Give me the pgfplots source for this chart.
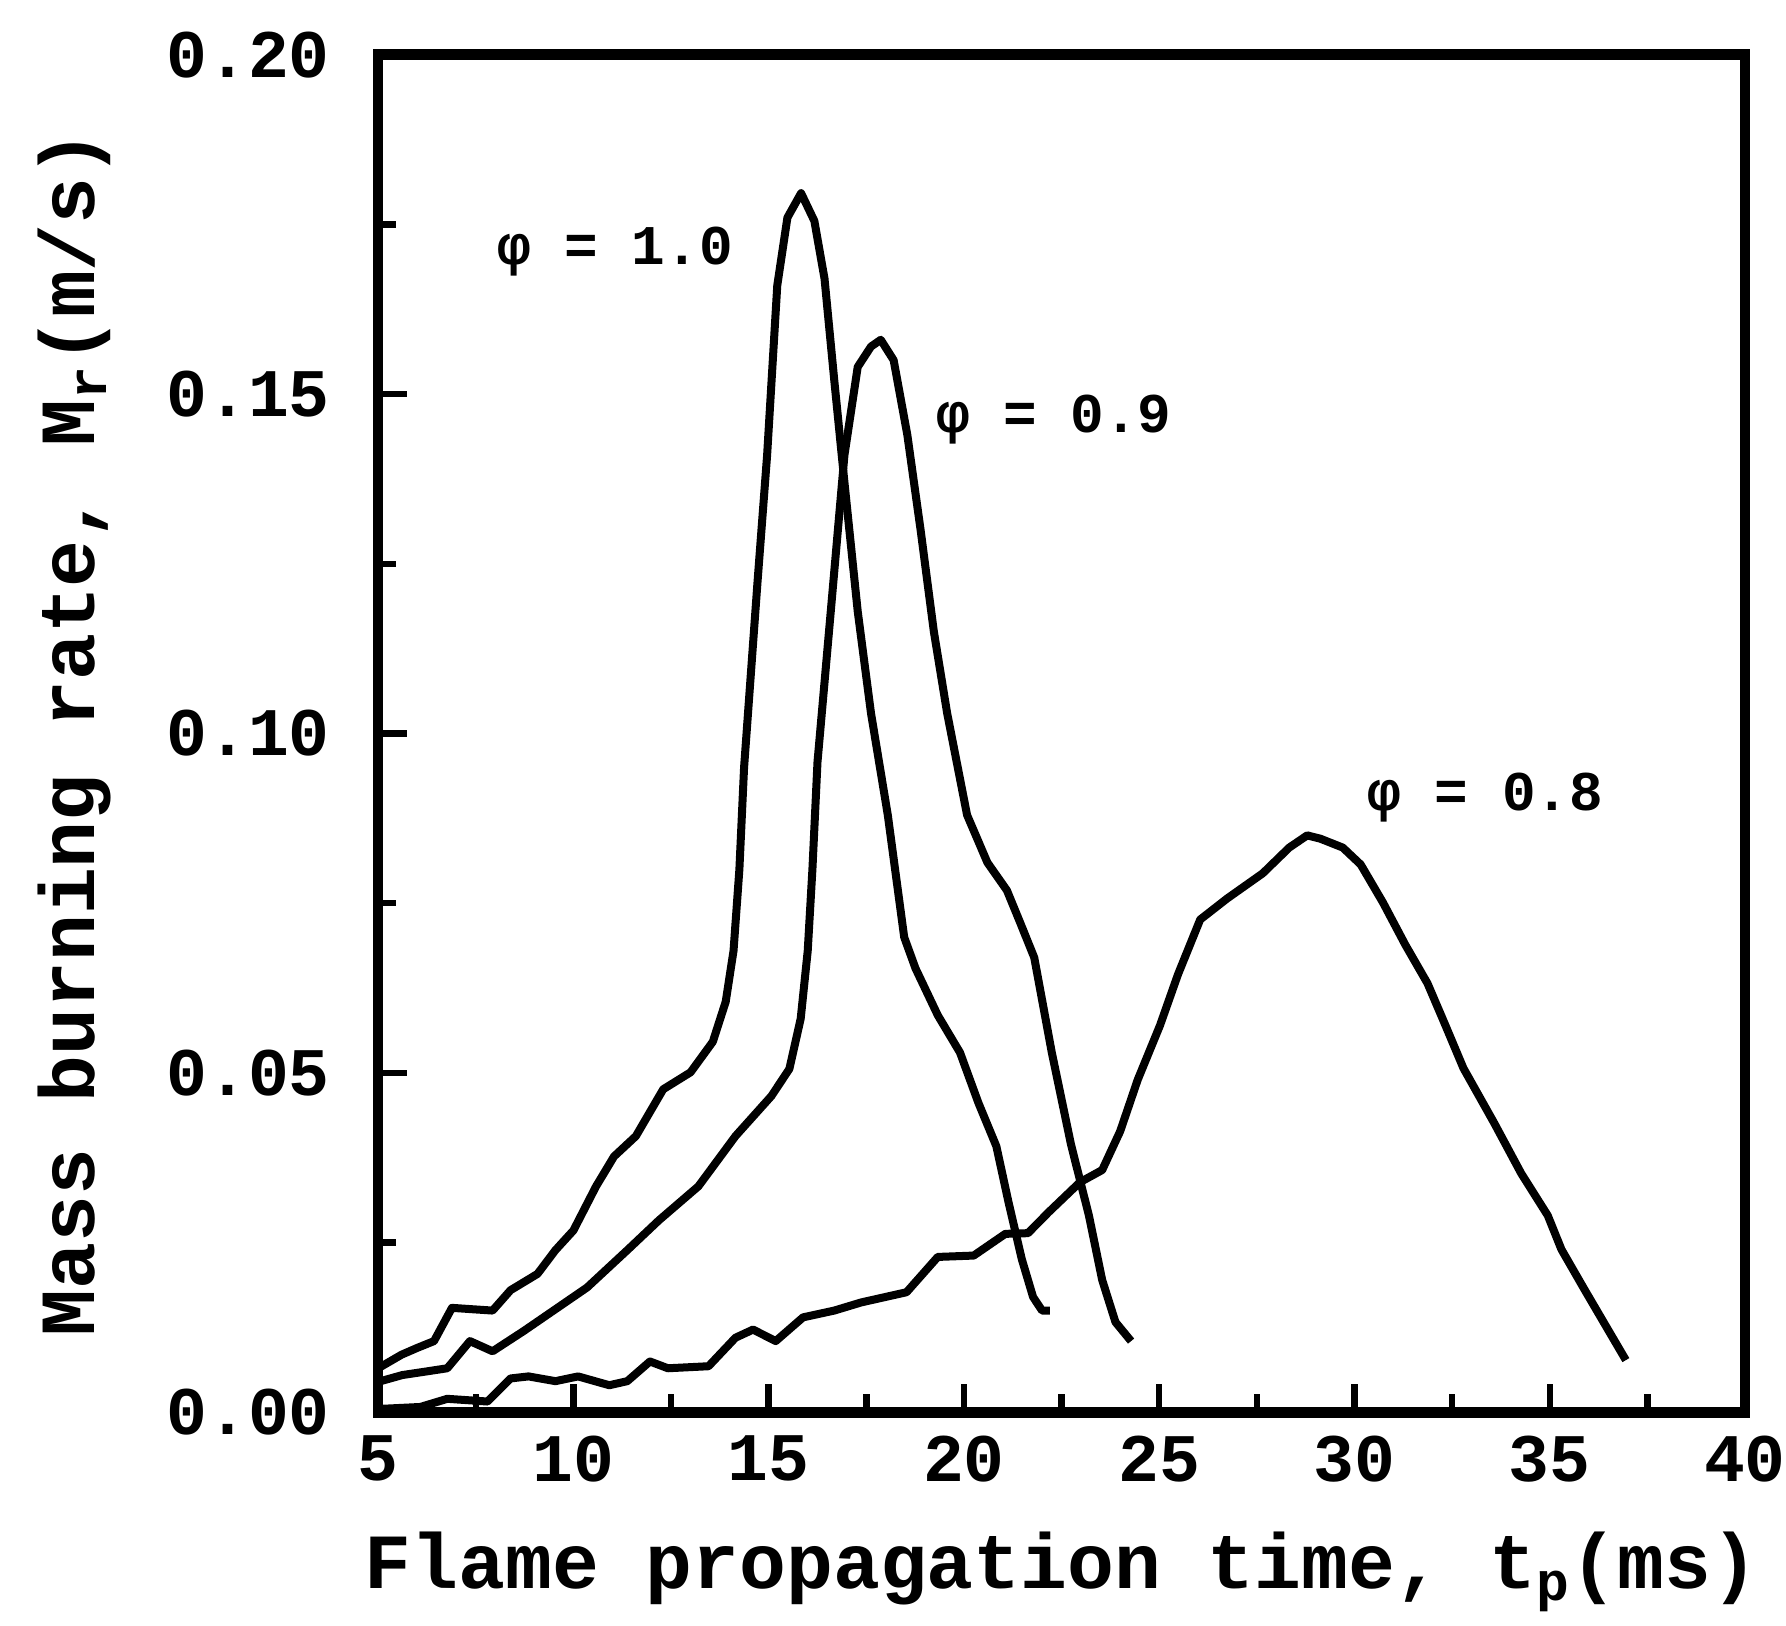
\documentclass[border=0pt]{standalone}
\usepackage{fontspec}
\setmainfont{Liberation Mono}
\usepackage{pgfplots}
\pgfplotsset{compat=1.18}

% phi = 1.0
\pgfplotstableread{
x y
5.0 0.0065
5.6 0.0085
6.0 0.0095
6.43 0.0105
6.89 0.0154
7.4 0.0152
7.93 0.015
8.39 0.018
9.08 0.0204
9.54 0.0239
10.0 0.0268
10.58 0.0333
11.04 0.0377
11.6 0.0407
12.3 0.0476
13.0 0.0501
13.57 0.0546
13.9 0.0605
14.1 0.068
14.25 0.08
14.37 0.095
14.71 0.122
14.96 0.141
15.22 0.166
15.48 0.176
15.83 0.1796
16.17 0.1755
16.43 0.167
16.68 0.152
16.94 0.137
17.28 0.118
17.62 0.103
18.05 0.088
18.47 0.070
18.76 0.0654
19.33 0.0585
19.9 0.053
20.37 0.0456
20.83 0.0392
21.14 0.031
21.48 0.0226
21.77 0.017
22.0 0.015
22.2 0.015
}\phione

% phi = 0.9
\pgfplotstableread{
x y
5.0 0.0045
5.62 0.0055
6.2 0.006
6.77 0.0065
7.35 0.0105
7.93 0.009
8.73 0.012
9.54 0.0152
10.35 0.0184
11.38 0.0239
12.19 0.0283
13.2 0.0333
14.15 0.0407
15.07 0.0466
15.53 0.0506
15.82 0.058
16.0 0.068
16.12 0.08
16.25 0.0958
16.59 0.118
16.94 0.141
17.28 0.154
17.62 0.157
17.87 0.158
18.2 0.155
18.55 0.144
18.89 0.130
19.23 0.115
19.57 0.103
20.08 0.088
20.6 0.081
21.1 0.0769
21.45 0.072
21.8 0.067
22.25 0.053
22.74 0.0395
23.2 0.029
23.54 0.0195
23.88 0.0133
24.28 0.0105
}\phinine

% phi = 0.8
\pgfplotstableread{
x y
5.0 0.0005
6.08 0.0008
6.77 0.002
7.8 0.0016
8.39 0.005
8.85 0.0053
9.54 0.0046
10.12 0.0053
10.92 0.004
11.38 0.0046
11.96 0.0075
12.42 0.0065
13.46 0.0068
14.15 0.011
14.6 0.0122
15.18 0.0105
15.88 0.014
16.68 0.015
17.37 0.0162
18.53 0.0177
19.33 0.0229
20.25 0.0231
21.06 0.0263
21.64 0.0264
22.17 0.0295
22.97 0.0339
23.54 0.0357
24.0 0.0414
24.45 0.049
25.02 0.057
25.48 0.0645
26.05 0.0726
26.74 0.0757
27.65 0.0794
28.33 0.0832
28.79 0.085
29.13 0.0845
29.7 0.0832
30.16 0.0807
30.73 0.0751
31.3 0.0689
31.87 0.0632
32.33 0.057
32.79 0.0507
33.58 0.0426
34.27 0.0352
34.95 0.029
35.3 0.024
35.87 0.0183
36.44 0.0127
36.95 0.0077
}\phieight

\begin{document}
\begin{tikzpicture}
\begin{axis}[
  name=ax,
  width=12cm, height=11.92cm, scale only axis,
  xmin=5, xmax=40, ymin=0, ymax=0.2,
  xtick={5,10,15,20,25,30,35,40},
  xticklabels={5,10,15,20,25,30,35,40},
  ytick={0,0.05,0.10,0.15,0.20},
  yticklabels={0.00,0.05,0.10,0.15,0.20},
  minor x tick num=1, minor y tick num=1,
  tick align=inside, tick pos=left,
  major tick length=0.25cm, minor tick length=0.16cm,
  every tick/.style={black, line width=1.6pt},
  axis line style={line width=2.6pt},
  every tick label/.append style={font=\bfseries\fontsize{17}{17}\selectfont},
  yticklabel style={xshift=-0.3cm},
  xticklabel style={yshift=-0.08cm, inner xsep=0pt},
  xlabel={Flame propagation time, t\textsubscript{p}(ms)},
  ylabel={Mass burning rate, M\textsubscript{r}(m/s)},
  label style={font=\bfseries\fontsize{19.5}{19.5}\selectfont},
  x label style={at={(axis description cs:0.5,-0.1174)}, anchor=center},
  y label style={at={(axis description cs:-0.2225,0.5)}, anchor=center},
  /pgf/number format/assume math mode=true,
]
\addplot[black, line width=2pt, line join=round] table {\phione};
\addplot[black, line width=2pt, line join=round] table {\phinine};
\addplot[black, line width=2pt, line join=round] table {\phieight};
\node[font=\bfseries\fontsize{14}{14}\selectfont] at (axis cs:11.07,0.171) {φ = 1.0};
\node[font=\bfseries\fontsize{14}{14}\selectfont] at (axis cs:22.3,0.1463) {φ = 0.9};
\node[font=\bfseries\fontsize{14}{14}\selectfont] at (axis cs:33.35,0.0906) {φ = 0.8};
\end{axis}
% page margins as in the reference
\path (ax.south west) ++(-3.32cm,-1.86cm) coordinate (bl);
\path (ax.north east) ++(0.36cm,0.48cm) coordinate (tr);
\path (bl) rectangle (tr);
\end{tikzpicture}
\end{document}
